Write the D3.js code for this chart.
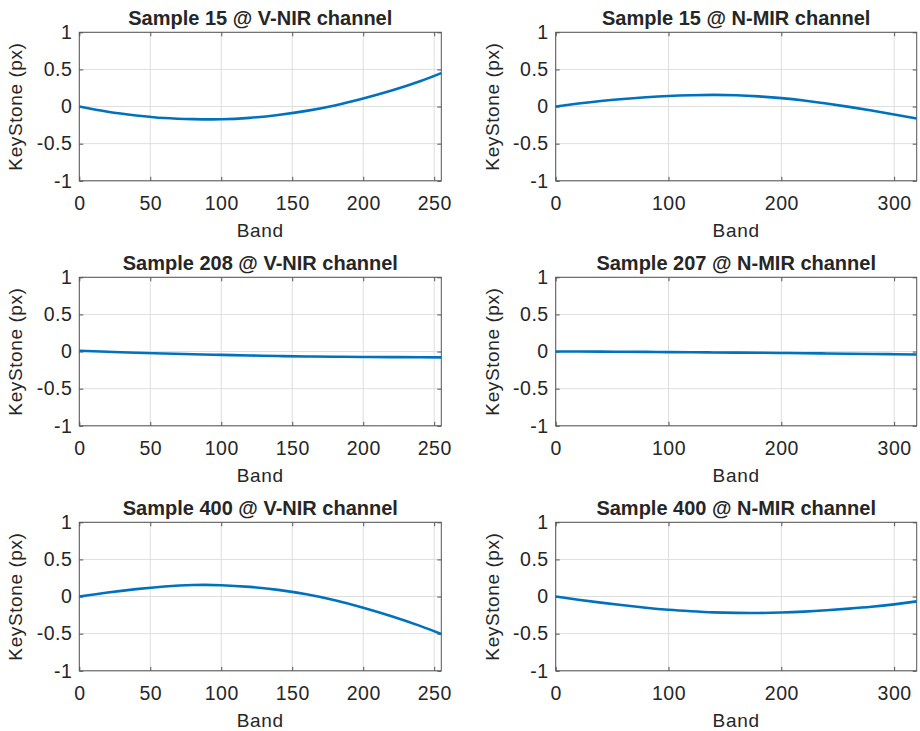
<!DOCTYPE html>
<html>
<head>
<meta charset="utf-8">
<script src="https://cdn.jsdelivr.net/npm/d3@7"></script>
<style>
    body { margin: 0; background: #fff; }
    text { font-family: "Liberation Sans", Arial, sans-serif; fill: #262626; }
</style>
</head>
<body>
<div id="chart"></div>
<script>
// ===============================================
// Data
// ===============================================
const vnirBands = [0, 20, 40, 60, 80, 100, 120, 140, 160, 180, 200, 220, 240, 255];
const mirBands = [0, 20, 40, 60, 80, 100, 120, 140, 160, 180, 200, 220, 240, 260, 280, 300, 320];

const s15Vnir = [0, -0.07, -0.12, -0.155, -0.17, -0.172, -0.152, -0.113, -0.058, 0.015, 0.108, 0.215, 0.34, 0.45];
const s15Mir = [0, 0.04, 0.075, 0.102, 0.125, 0.143, 0.153, 0.157, 0.152, 0.137, 0.114, 0.082, 0.042, -0.004, -0.054, -0.106, -0.162];
const s208Vnir = [0.01, -0.003, -0.016, -0.027, -0.037, -0.045, -0.053, -0.06, -0.066, -0.07, -0.073, -0.075, -0.077, -0.078];
const s207Mir = [0, 0, -0.001, -0.003, -0.005, -0.008, -0.01, -0.012, -0.014, -0.016, -0.019, -0.022, -0.026, -0.029, -0.032, -0.036, -0.04];
const s400Vnir = [0, 0.055, 0.1, 0.135, 0.155, 0.153, 0.13, 0.09, 0.03, -0.05, -0.15, -0.265, -0.395, -0.505];
const s400Mir = [0, -0.043, -0.082, -0.117, -0.15, -0.178, -0.198, -0.213, -0.22, -0.221, -0.215, -0.203, -0.185, -0.163, -0.138, -0.105, -0.065];

const titles = [
    "Sample 15 @ V-NIR channel", "Sample 15 @ N-MIR channel",
    "Sample 208 @ V-NIR channel", "Sample 207 @ N-MIR channel",
    "Sample 400 @ V-NIR channel", "Sample 400 @ N-MIR channel"
];

const vnirTicks = [0, 50, 100, 150, 200, 250];
const mirTicks = [0, 100, 200, 300];
const yTicks = [-1, -0.5, 0, 0.5, 1];

// ===============================================
// Layout
// ===============================================
const width = 920, height = 731;
const colLeft = [79.3, 555.7];
const colWidth = [362, 361];
const rowTop = [32.3, 277.3, 522.3];
const panelHeight = 148.5;

const panels = [
    {bands: vnirBands, values: s15Vnir, xMax: 255, ticks: vnirTicks},
    {bands: mirBands, values: s15Mir, xMax: 320, ticks: mirTicks},
    {bands: vnirBands, values: s208Vnir, xMax: 255, ticks: vnirTicks},
    {bands: mirBands, values: s207Mir, xMax: 320, ticks: mirTicks},
    {bands: vnirBands, values: s400Vnir, xMax: 255, ticks: vnirTicks},
    {bands: mirBands, values: s400Mir, xMax: 320, ticks: mirTicks}
];

const svg = d3.select("#chart")
    .append("svg")
    .attr("width", width)
    .attr("height", height);

panels.forEach((p, i) => {
    const col = i % 2, row = Math.floor(i / 2);
    const w = colWidth[col], h = panelHeight;

    const g = svg.append("g")
        .attr("transform", `translate(${colLeft[col]},${rowTop[row]})`);

    const x = d3.scaleLinear().domain([0, p.xMax]).range([0, w]);
    const y = d3.scaleLinear().domain([-1, 1]).range([h, 0]);

    // Grid lines
    g.append("g").selectAll("line")
        .data(p.ticks)
        .enter().append("line")
        .attr("x1", d => x(d)).attr("x2", d => x(d))
        .attr("y1", 0).attr("y2", h)
        .attr("stroke", "#dedede").attr("stroke-width", 1);

    g.append("g").selectAll("line")
        .data(yTicks)
        .enter().append("line")
        .attr("x1", 0).attr("x2", w)
        .attr("y1", d => y(d)).attr("y2", d => y(d))
        .attr("stroke", "#dedede").attr("stroke-width", 1);

    // Axes (ticks point inward)
    const xAxis = g.append("g")
        .attr("transform", `translate(0,${h})`)
        .call(d3.axisBottom(x).tickValues(p.ticks).tickFormat(d => String(d))
            .tickSizeInner(-4).tickSizeOuter(0).tickPadding(15));

    const yAxis = g.append("g")
        .call(d3.axisLeft(y).tickValues(yTicks).tickFormat(d => String(d))
            .tickSizeInner(-4).tickSizeOuter(0).tickPadding(7));

    g.append("g")
        .call(d3.axisTop(x).tickValues(p.ticks).tickFormat("")
            .tickSizeInner(-4).tickSizeOuter(0));

    g.append("g")
        .attr("transform", `translate(${w},0)`)
        .call(d3.axisRight(y).tickValues(yTicks).tickFormat("")
            .tickSizeInner(-4).tickSizeOuter(0));

    g.selectAll(".domain").remove();
    g.selectAll(".tick line").attr("stroke", "#555");
    [xAxis, yAxis].forEach(a => a.selectAll("text")
        .attr("fill", "#333")
        .style("font-size", "19.5px")
        .style("letter-spacing", "0.5px")
        .style("font-family", '"Liberation Sans", Arial, sans-serif'));

    // Box
    g.append("rect")
        .attr("width", w).attr("height", h)
        .attr("fill", "none")
        .attr("stroke", "#555").attr("stroke-width", 1);

    // Curve
    const line = d3.line()
        .x((d, k) => x(p.bands[k]))
        .y(d => y(d))
        .curve(d3.curveNatural);

    g.append("path")
        .datum(p.values)
        .attr("fill", "none")
        .attr("stroke", "#0072BD")
        .attr("stroke-width", 2.6)
        .attr("d", line);

    // Title
    g.append("text")
        .attr("x", w / 2).attr("y", -7)
        .attr("text-anchor", "middle")
        .style("font-size", "20px")
        .style("font-weight", "bold")
        .attr("fill", "#000")
        .text(titles[i]);

    // X-axis label
    g.append("text")
        .attr("x", w / 2).attr("y", h + 56)
        .attr("text-anchor", "middle")
        .attr("fill", "#333")
        .style("font-size", "19px")
        .style("letter-spacing", "0.7px")
        .text("Band");

    // Y-axis label
    g.append("text")
        .attr("transform", "rotate(-90)")
        .attr("x", -h / 2).attr("y", -57)
        .attr("text-anchor", "middle")
        .attr("fill", "#333")
        .style("font-size", "19px")
        .style("letter-spacing", "0.6px")
        .text("KeyStone (px)");
});
</script>
</body>
</html>
